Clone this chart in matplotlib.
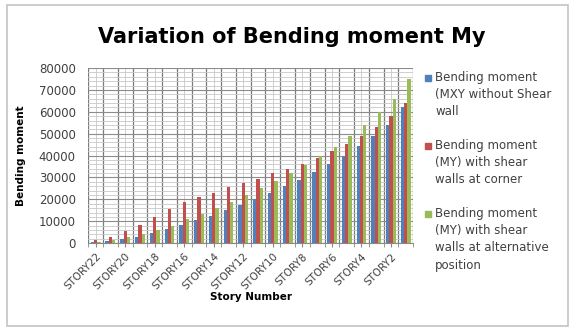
import matplotlib.pyplot as plt
import numpy as np
from matplotlib.patches import Rectangle
from matplotlib.ticker import MultipleLocator

stories = ["STORY%d" % n for n in range(22, 0, -1)]

# bending moment My per story
without_wall = [500, 1000, 2000, 3000, 4500, 6500, 8500, 10500, 12500, 15000, 17500,
                20000, 23000, 26000, 29000, 32500, 36000, 40000, 44500, 49000, 54000, 62000]
corner_walls = [1500, 3000, 5500, 8500, 12000, 15500, 19000, 21000, 23000, 25500, 27500,
                29500, 32000, 34000, 36000, 39000, 42000, 45500, 49000, 53000, 58000, 64000]
alt_walls = [700, 1500, 3000, 4000, 6000, 8000, 11000, 13500, 16000, 19000, 22000,
             25000, 28500, 32000, 35500, 40000, 44000, 49000, 54000, 60000, 66000, 75000]

series_names = ["Bending moment\n(MXY without Shear\nwall",
                "Bending moment\n(MY) with shear\nwalls at corner",
                "Bending moment\n(MY) with shear\nwalls at alternative\nposition"]
colors = ["#4F81BD", "#C0504D", "#9BBB59"]

fig = plt.figure(figsize=(5.73, 3.29), dpi=100)
fig.patches.append(Rectangle((0.012, 0.008), 0.98, 0.978, transform=fig.transFigure,
                             fill=False, edgecolor="#c4c4c4", linewidth=1.2))

ax = fig.add_axes([0.154, 0.261, 0.567, 0.532])
x = np.arange(len(stories))
w = 1 / 4.5
for i, (vals, c) in enumerate(zip([without_wall, corner_walls, alt_walls], colors)):
    ax.bar(x + (i - 1) * w, vals, width=w, color=c, zorder=3)

ax.set_xlim(-0.5, len(stories) - 0.5)
ax.set_ylim(0, 80000)
ax.yaxis.set_major_locator(MultipleLocator(10000))
ax.yaxis.set_minor_locator(MultipleLocator(2000))
ax.set_xticks(x[::2])
ax.set_xticklabels(stories[::2], rotation=45, ha="right", rotation_mode="anchor",
                   fontsize=7.5, color="#404040")
ax.set_xticks(np.arange(-0.5, len(stories), 1), minor=True)
ax.tick_params(axis="y", labelsize=8.5, colors="#404040", length=0, which="both", pad=9)
ax.tick_params(axis="x", which="both", length=3, color="#888888", pad=3)
ax.grid(True, which="major", axis="y", color="#8c8c8c", linewidth=0.8, zorder=0)
ax.grid(True, which="minor", axis="y", color="#c8c8c8", linewidth=0.6, zorder=0)
ax.grid(True, which="minor", axis="x", color="#7a7a7a", linewidth=0.9, zorder=0)
ax.grid(True, which="major", axis="x", color="#c8c8c8", linewidth=0.6, zorder=0)
for s in ["top", "right", "left"]:
    ax.spines[s].set_visible(False)
ax.spines["bottom"].set_color("#888888")

ax.set_ylabel("Bending moment", fontsize=7.5, fontweight="bold", labelpad=9)
ax.set_xlabel("Story Number", fontsize=7.5, fontweight="bold", labelpad=0)

fig.text(0.51, 0.888, "Variation of Bending moment My", fontsize=15, fontweight="bold",
         ha="center", va="center")

# legend: square marker beside the first line of each entry
first_line_px = [78, 146, 214]
for name, c, ypx in zip(series_names, colors, first_line_px):
    yf = 1 - ypx / 329
    fig.patches.append(Rectangle((425 / 573, yf - 3 / 329), 6 / 573, 6 / 329,
                                 transform=fig.transFigure, color=c))
    fig.text(435 / 573, yf + 7 / 329, name, fontsize=8.5, color="#404040", ha="left",
             va="top", linespacing=1.42, transform=fig.transFigure)

fig.savefig("out.png", dpi=100)
